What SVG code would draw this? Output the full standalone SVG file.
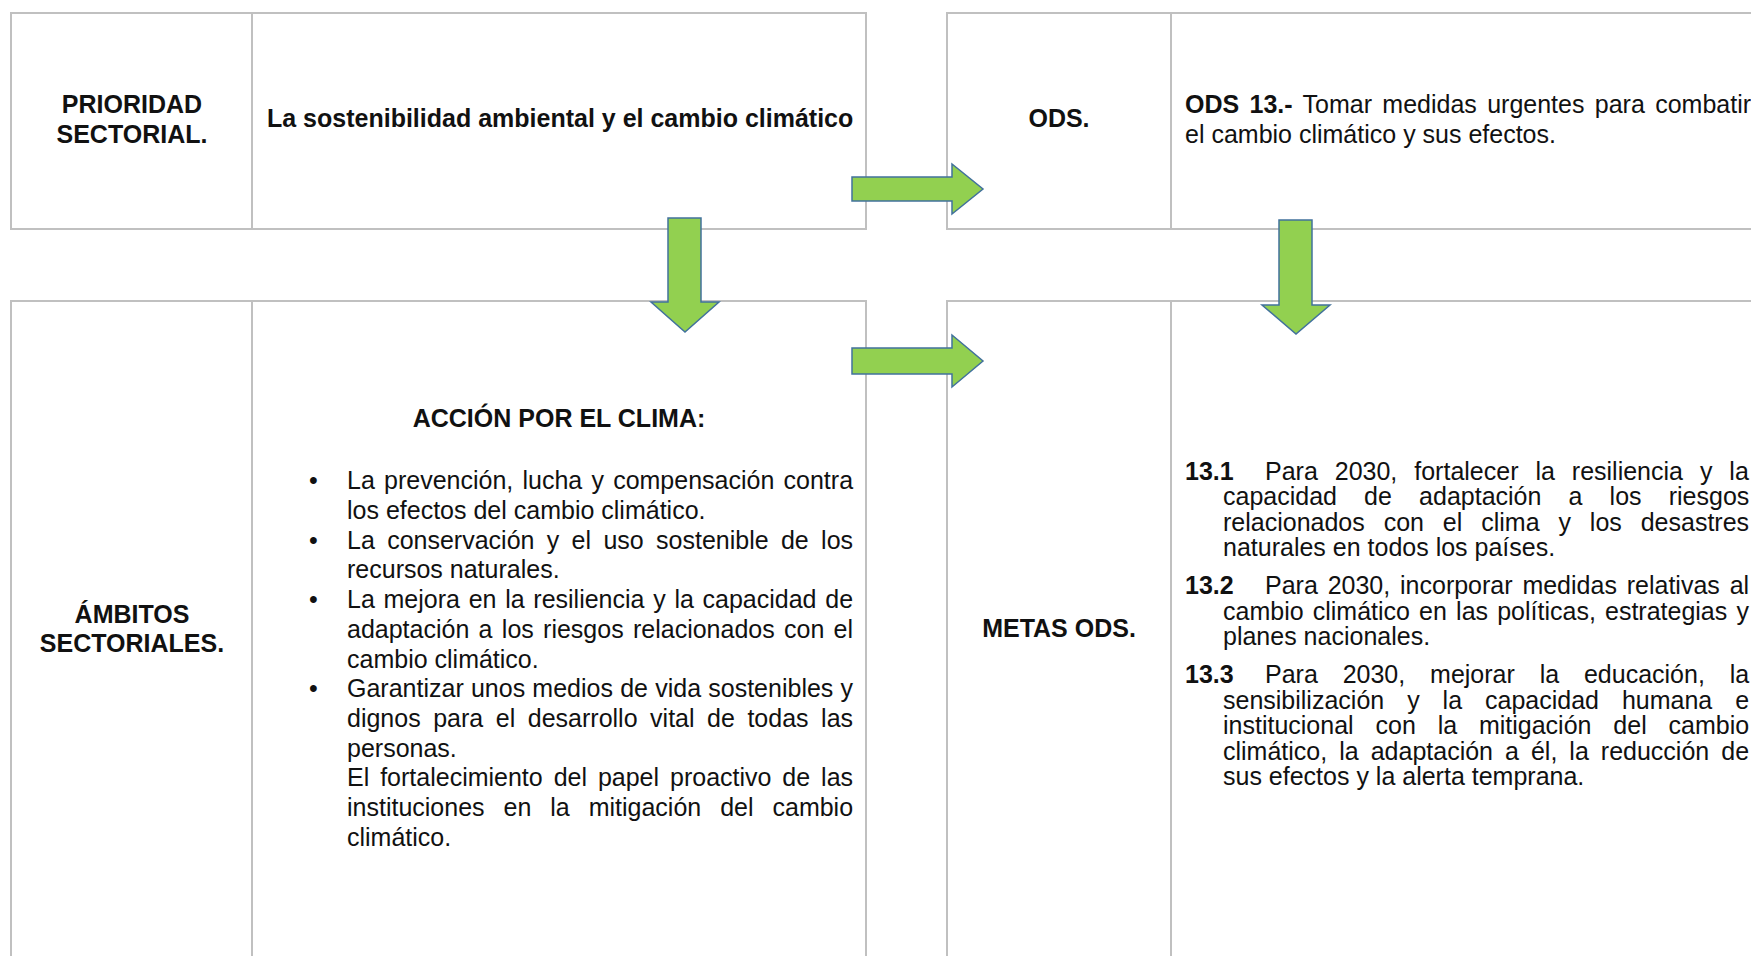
<svg xmlns="http://www.w3.org/2000/svg" width="1751" height="956" viewBox="0 0 1751 956">
<style>
.box{fill:#fff;stroke:#c0c0c0;stroke-width:2}
.dv{stroke:#c0c0c0;stroke-width:2}
text{font-family:"Liberation Sans",Arial,sans-serif;font-size:25px;fill:#111}
.b{font-weight:bold}
.m{text-anchor:middle}
.arrow{fill:#92D050;stroke:#41719C;stroke-width:1.5;stroke-linejoin:miter}
</style>
<rect width="1751" height="956" fill="#fff"/>
<g id="prioridad">
<rect class="box" x="11" y="13" width="855" height="216"/>
<line class="dv" x1="252" y1="13" x2="252" y2="229"/>
<text class="b m" x="132" y="113" font-size="24.5">PRIORIDAD</text>
<text class="b m" x="132" y="143" font-size="24.5">SECTORIAL.</text>
<text class="b" x="267" y="127">La sostenibilidad ambiental y el cambio climático</text>
</g>
<g id="ods">
<rect class="box" x="947" y="13" width="820" height="216"/>
<line class="dv" x1="1171" y1="13" x2="1171" y2="229"/>
<text class="b m" x="1059" y="127">ODS.</text>
<text x="1185" y="113" word-spacing="3.4"><tspan class="b">ODS 13.-</tspan> Tomar medidas urgentes para combatir</text>
<text x="1185" y="143">el cambio climático y sus efectos.</text>
</g>
<g id="ambitos">
<rect class="box" x="11" y="301" width="855" height="700"/>
<line class="dv" x1="252" y1="301" x2="252" y2="1001"/>
<text class="b m" x="132" y="623" font-size="24.5">ÁMBITOS</text>
<text class="b m" x="132" y="652" font-size="24.5">SECTORIALES.</text>
<text class="b m" x="559" y="427">ACCIÓN POR EL CLIMA:</text>
<text x="309" y="489">•</text>
<text x="309" y="549">•</text>
<text x="309" y="608">•</text>
<text x="309" y="697">•</text>
<text x="347" y="489" word-spacing="2.26">La prevención, lucha y compensación contra</text>
<text x="347" y="519">los efectos del cambio climático.</text>
<text x="347" y="549" word-spacing="5.39">La conservación y el uso sostenible de los</text>
<text x="347" y="578">recursos naturales.</text>
<text x="347" y="608" word-spacing="1.76">La mejora en la resiliencia y la capacidad de</text>
<text x="347" y="638" word-spacing="2.35">adaptación a los riesgos relacionados con el</text>
<text x="347" y="668">cambio climático.</text>
<text x="347" y="697" word-spacing="0.27">Garantizar unos medios de vida sostenibles y</text>
<text x="347" y="727" word-spacing="5.59">dignos para el desarrollo vital de todas las</text>
<text x="347" y="757">personas.</text>
<text x="347" y="786" word-spacing="3.97">El fortalecimiento del papel proactivo de las</text>
<text x="347" y="816" word-spacing="12">instituciones en la mitigación del cambio</text>
<text x="347" y="846">climático.</text>
</g>
<g id="metas">
<rect class="box" x="947" y="301" width="820" height="700"/>
<line class="dv" x1="1171" y1="301" x2="1171" y2="1001"/>
<text class="b m" x="1059" y="637">METAS ODS.</text>
<text class="b" x="1185" y="480">13.1</text>
<text x="1265" y="480" word-spacing="10">Para 2030, fortalecer la resiliencia y la</text>
<text x="1223" y="505" word-spacing="20.2">capacidad de adaptación a los riesgos</text>
<text x="1223" y="531" word-spacing="11.95">relacionados con el clima y los desastres</text>
<text x="1223" y="556">naturales en todos los países.</text>
<text class="b" x="1185" y="594">13.2</text>
<text x="1265" y="594" word-spacing="2.88">Para 2030, incorporar medidas relativas al</text>
<text x="1223" y="620" word-spacing="2.2">cambio climático en las políticas, estrategias y</text>
<text x="1223" y="645">planes nacionales.</text>
<text class="b" x="1185" y="683">13.3</text>
<text x="1265" y="683" word-spacing="17.9">Para 2030, mejorar la educación, la</text>
<text x="1223" y="709" word-spacing="16">sensibilización y la capacidad humana e</text>
<text x="1223" y="734" word-spacing="14.9">institucional con la mitigación del cambio</text>
<text x="1223" y="760" word-spacing="5.07">climático, la adaptación a él, la reducción de</text>
<text x="1223" y="785">sus efectos y la alerta temprana.</text>
</g>
<g id="connectors">
<polygon class="arrow" points="852,177 952,177 952,164 983,189 952,214 952,201 852,201"/>
<polygon class="arrow" points="852,348 952,348 952,335 983,361 952,387 952,374 852,374"/>
<polygon class="arrow" points="668,218 701,218 701,302 719,302 685,332 651,302 668,302"/>
<polygon class="arrow" points="1279,220 1312,220 1312,305 1330,305 1296,334 1262,305 1279,305"/>
</g>
</svg>
